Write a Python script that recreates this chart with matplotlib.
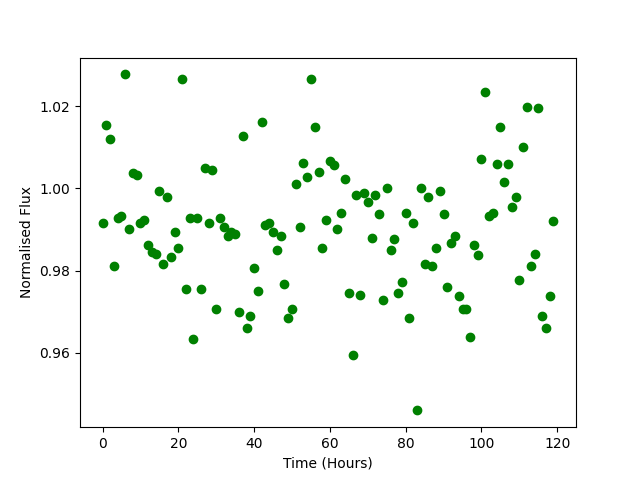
import numpy as np
import matplotlib
matplotlib.use("Agg")
import matplotlib.pyplot as plt

# hours since start of observation
time_hours = np.arange(120)

flux = [
    0.9915, 1.0154, 1.0120, 0.9810, 0.9927, 0.9934, 1.0278, 0.9900, 1.0037, 1.0032,
    0.9917, 0.9922, 0.9863, 0.9846, 0.9841, 0.9995, 0.9817, 0.9978, 0.9834, 0.9895,
    0.9854, 1.0268, 0.9754, 0.9929, 0.9634, 0.9927, 0.9754, 1.0051, 0.9917, 1.0046,
    0.9705, 0.9929, 0.9907, 0.9883, 0.9895, 0.9888, 0.9700, 1.0127, 0.9661, 0.9690,
    0.9807, 0.9749, 1.0163, 0.9912, 0.9917, 0.9893, 0.9851, 0.9883, 0.9768, 0.9685,
    0.9707, 1.0012, 0.9905, 1.0061, 1.0029, 1.0266, 1.0151, 1.0041, 0.9856, 0.9922,
    1.0066, 1.0056, 0.9900, 0.9939, 1.0024, 0.9744, 0.9593, 0.9983, 0.9741, 0.9988,
    0.9968, 0.9880, 0.9983, 0.9937, 0.9729, 1.0000, 0.9851, 0.9878, 0.9744, 0.9773,
    0.9941, 0.9685, 0.9917, 0.9459, 1.0000, 0.9815, 0.9978, 0.9812, 0.9854, 0.9993,
    0.9937, 0.9759, 0.9868, 0.9885, 0.9739, 0.9707, 0.9705, 0.9639, 0.9861, 0.9837,
    1.0073, 1.0234, 0.9934, 0.9941, 1.0059, 1.0149, 1.0015, 1.0059, 0.9954, 0.9980,
    0.9776, 1.0102, 1.0198, 0.9812, 0.9841, 1.0195, 0.9688, 0.9661, 0.9737, 0.9920,
]

fig, ax = plt.subplots(figsize=(6.4, 4.8), dpi=100)
ax.plot(time_hours, flux, "o", color="green")
ax.set_xlabel("Time (Hours)")
ax.set_ylabel("Normalised Flux")

fig.savefig("out.png")
